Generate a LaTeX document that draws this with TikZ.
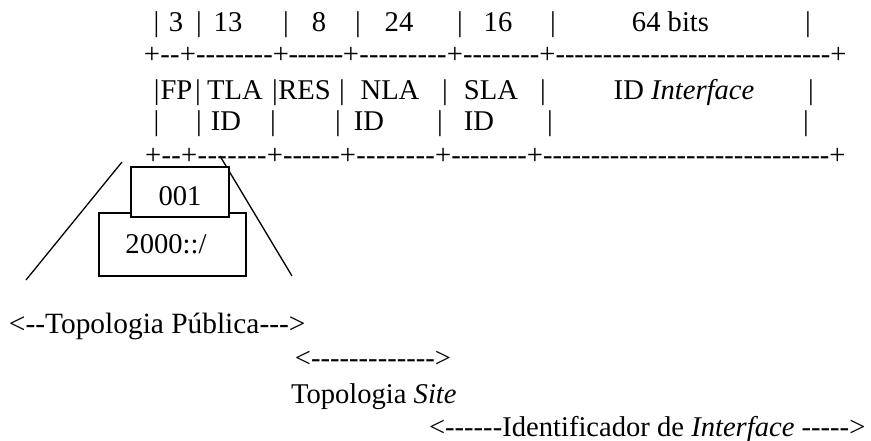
\documentclass[tikz,border=0pt]{standalone}
\usepackage{fontspec}
\setmainfont{Liberation Serif}[Ligatures=TeXOff]
\newcommand\hyphrun[1]{\ifnum#1>0 \hskip 0pt plus 1fil minus 2pt-\expandafter\hyphrun\expandafter{\the\numexpr#1-1\relax}\fi}
\newcommand\segbox[2]{\makebox[#1pt][s]{+\hyphrun{#2}\hskip 0pt plus 1fil minus 2pt}}
\begin{document}
\begin{tikzpicture}[x=1pt,y=-1pt,
  txt/.style={inner sep=0pt,outer sep=0pt,anchor=base,font=\fontsize{28.6}{34}\selectfont},
  txtw/.style={txt,anchor=base west},
  boxst/.style={draw=black,line width=1.6pt,fill=white},
  slant/.style={draw=black,line width=1.3pt}]
\useasboundingbox[fill=white] (0,0) rectangle (871,441);
% row 1
\foreach \x/\t [count=\i] in {156.5/{|},176/3,199/{|},228/13,286/{|},319/8,358/{|},399/24,460/{|},498/16,553/{|},670.5/{64 bits},808/{|}}
  \node[txt] (ra\i) at (\x,32) {\t};
% row 2
\foreach \x/\w/\n [count=\i] in {152/36/2,188/93/8,281/70/6,351/104/9,455/92.5/8,547.5/291/29}
  \node[txtw] (sb\i) at (\x-8.07,64) {\segbox{\w}{\n}};
\node[txt] (sb7) at (838.5,64) {+};
% row 3
\foreach \x/\t [count=\i] in {156.7/{|},176.5/FP,198/{|},235/TLA,275/{|},304.5/RES,342/{|},390/NLA,445/{|},491/SLA,543/{|},684/{ID \textit{Interface}},811/{|}}
  \node[txt] (rc\i) at (\x,100) {\t};
% row 4
\foreach \x/\t [count=\i] in {156.5/{|},199/{|},226/ID,273/{|},338/{|},369/ID,440/{|},479/ID,550/{|},806/{|}}
  \node[txt] (rd\i) at (\x,131) {\t};
% row 5
\foreach \x/\w/\n [count=\i] in {153.3/36/2,189.3/85.7/7,275/73/6,348/95.3/8,443.3/91.7/8,535/302.5/30}
  \node[txtw] (se\i) at (\x-8.07,165) {\segbox{\w}{\n}};
\node[txt] (se7) at (837.5,165) {+};
% slanted lines
\coordinate (la) at (122,162);
\coordinate (lb) at (26,280);
\coordinate (ra) at (220,156);
\coordinate (rb) at (292,276);
\draw[slant] (la) -- (lb);
\draw[slant] (ra) -- (rb);
% boxes
\draw[boxst] (99,213) rectangle (246,276);
\node[txt] (pfx) at (166,253) {2000::/};
\draw[boxst] (131,167) rectangle (229,217);
\node[txt] (fp) at (180,206) {001};
% bottom labels
\node[txtw,font=\fontsize{29.4}{35}\selectfont] (pub) at (9,333) {<--Topologia Pública--->};
\node[txt] (sitearr) at (373,367) {<------------->};
\node[txtw] (site) at (291,403) {Topologia \textit{Site}};
\node[txtw] (ifc) at (429,436) {<------Identificador de \textit{Interface} ----->};
\end{tikzpicture}
\end{document}
